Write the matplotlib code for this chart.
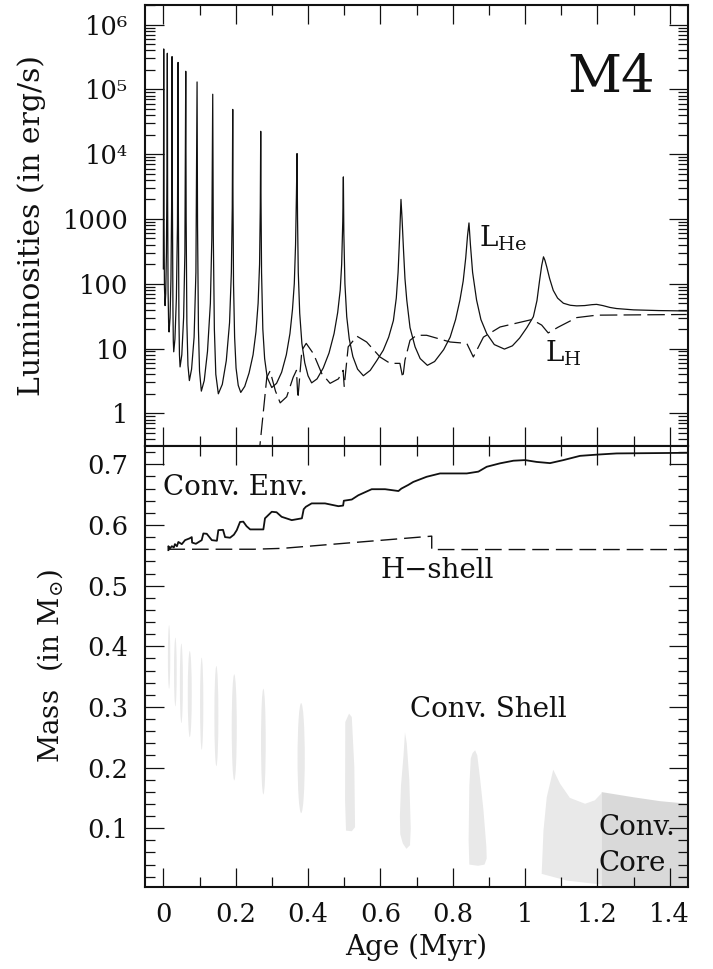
import matplotlib
matplotlib.use('Agg')
import matplotlib.pyplot as plt
from matplotlib.patches import Ellipse
from matplotlib.ticker import FixedLocator, LogLocator, MultipleLocator, NullFormatter

plt.rcParams['font.family'] = 'DejaVu Serif'
plt.rcParams['mathtext.fontset'] = 'dejavuserif'

# He-burning luminosity through the thermal pulses (age in Myr, L in erg/s)
age_he = [0.000, 0.001, 0.0018, 0.0030, 0.0047,
          0.0065, 0.0085, 0.0100, 0.011, 0.0118, 0.013, 0.0145, 0.0158,
          0.0185, 0.021, 0.0228, 0.024, 0.025, 0.0265, 0.0275, 0.0287,
          0.032, 0.036, 0.039, 0.0406, 0.0415, 0.043, 0.0445, 0.0462,
          0.051, 0.056, 0.0595, 0.0619, 0.063, 0.065, 0.068, 0.0719,
          0.078, 0.085, 0.090, 0.0932, 0.0945, 0.097, 0.100, 0.105,
          0.113, 0.122, 0.130, 0.134, 0.1365, 0.138, 0.141, 0.145, 0.152,
          0.163, 0.174, 0.183, 0.188, 0.1905, 0.1918,
          0.1925, 0.194, 0.197, 0.201, 0.207, 0.214,
          0.225, 0.237, 0.248, 0.256, 0.262, 0.266, 0.268, 0.2692,
          0.270, 0.2715, 0.275, 0.280, 0.287, 0.2997,
          0.313, 0.327, 0.340, 0.350, 0.357, 0.362, 0.3655, 0.368, 0.3696,
          0.371, 0.373, 0.377, 0.383, 0.391, 0.400, 0.410,
          0.425, 0.442, 0.458, 0.472, 0.482, 0.489, 0.493, 0.496, 0.4977,
          0.499, 0.502, 0.507, 0.514, 0.524, 0.537, 0.553,
          0.572, 0.590, 0.608, 0.623, 0.636, 0.644, 0.649, 0.653, 0.657,
          0.660, 0.664, 0.668, 0.673, 0.682, 0.696, 0.710, 0.730,
          0.750, 0.775, 0.793, 0.808, 0.820, 0.829, 0.836, 0.841, 0.845,
          0.849, 0.855, 0.866, 0.878, 0.894, 0.915, 0.943,
          0.965, 0.985, 1.005, 1.023, 1.033, 1.040, 1.046, 1.051,
          1.055, 1.060, 1.068, 1.078, 1.090, 1.106, 1.125, 1.143, 1.165, 1.185,
          1.198, 1.215, 1.235, 1.253, 1.300, 1.370, 1.447]
lum_he = [170, 4.2e5, 800, 90, 46,
          70, 300, 5000, 3.6e5, 2000, 80, 25, 18,
          30, 120, 1500, 3.2e5, 2000, 40, 13, 8.9,
          14, 60, 800, 2.6e5, 1500, 30, 8, 5.2,
          8, 30, 300, 1.9e5, 1000, 25, 5.5, 3.2,
          4.8, 15, 150, 1.3e5, 800, 20, 4.5, 2.2,
          3.2, 9, 50, 500, 8.4e4, 600, 20, 4, 2.0,
          2.8, 6.5, 25, 150, 1500, 4.9e4,
          2000, 100, 15, 5, 2.7, 2.1,
          2.6, 4.2, 8, 18, 50, 200, 1500, 2.25e4,
          2000, 150, 20, 7, 3.6, 2.5,
          2.9, 4.3, 8, 17, 40, 100, 400, 2500, 1.02e4,
          1000, 150, 35, 12, 6, 3.8, 2.95,
          3.4, 5, 8.5, 17, 36, 80, 200, 900, 4450,
          600, 100, 31, 14, 7.5, 4.8, 3.8,
          4.6, 6.5, 9.4, 15, 27, 60, 150, 500, 2000,
          1000, 330, 120, 56, 21, 10.6, 7, 5.5,
          6.3, 9.6, 15, 28, 56, 110, 250, 550, 867,
          400, 150, 56, 28, 17, 11.5, 9.8,
          11, 14.5, 21, 31, 55, 110, 190, 260,
          230, 182, 120, 79, 60, 50, 46.5, 45.5, 46, 47.5,
          48, 46, 43, 41.4, 39.5, 38.5, 38]

# H-burning luminosity
age_h = [0.262, 0.267, 0.276, 0.286, 0.295, 0.310, 0.323, 0.341, 0.359, 0.368,
         0.372, 0.383, 0.395, 0.415, 0.438, 0.461, 0.484, 0.497, 0.500, 0.511,
         0.535, 0.562, 0.599, 0.627, 0.654, 0.662, 0.668, 0.682, 0.700, 0.728,
         0.793, 0.839, 0.857, 0.885, 0.931, 1.019, 1.046, 1.064, 1.092, 1.143,
         1.198, 1.447]
lum_h = [0.2, 0.32, 1.0, 3.6, 4.5, 2.2, 1.45, 1.8, 3.6, 4.6,
         1.7, 9.4, 12, 8.3, 4.1, 2.9, 3.4, 4.6, 2.6, 10.6,
         15.5, 12.6, 7.4, 5.9, 5.9, 3.5, 6.6, 13.4, 16, 16,
         12.6, 12, 7.4, 15, 21.5, 28, 23, 17.4, 21.4, 30,
         32.7, 33.5]

# base of the convective envelope (Msun)
env_age = [0.0139, 0.0139, 0.0180, 0.0235, 0.0290, 0.0320, 0.0375, 0.0415, 0.0510, 0.0600,
           0.0720, 0.0785, 0.0795, 0.0900, 0.1060, 0.1106, 0.1200, 0.1340, 0.1480, 0.1520,
           0.1650, 0.1706, 0.1844, 0.1950, 0.2030, 0.2120, 0.2210, 0.2300, 0.2400, 0.2765,
           0.2810, 0.2997, 0.3130, 0.3270, 0.3550, 0.3830, 0.3880, 0.3940, 0.4100, 0.4470,
           0.4840, 0.4970, 0.4990, 0.5210, 0.5390, 0.5760, 0.6130, 0.6500, 0.6580, 0.6770,
           0.6910, 0.7280, 0.7650, 0.8390, 0.8710, 0.8940, 0.9310, 0.9680, 1.0000, 1.0320,
           1.0690, 1.1060, 1.1520, 1.1980, 1.2530, 1.4470]
env_mass = [0.5585, 0.5650, 0.5613, 0.5650, 0.5630, 0.5684, 0.5650, 0.5720, 0.5684, 0.5750,
            0.5778, 0.5800, 0.5710, 0.5690, 0.5750, 0.5860, 0.5855, 0.5750, 0.5740, 0.5915,
            0.5920, 0.5800, 0.5790, 0.5840, 0.5915, 0.6050, 0.6055, 0.5980, 0.5927, 0.5927,
            0.6110, 0.6218, 0.6210, 0.6135, 0.6080, 0.6110, 0.6260, 0.6300, 0.6356, 0.6356,
            0.6310, 0.6320, 0.6400, 0.6420, 0.6490, 0.6590, 0.6590, 0.6560, 0.6600, 0.6660,
            0.6710, 0.6795, 0.6850, 0.6850, 0.6880, 0.6960, 0.7017, 0.7060, 0.7070, 0.7040,
            0.7020, 0.7070, 0.7140, 0.7160, 0.7180, 0.7190]

# location of the H-burning shell
hsh_age = [0.0139, 0.25, 0.33, 0.742, 0.742, 1.45]
hsh_mass = [0.560, 0.560, 0.5615, 0.5816, 0.5595, 0.5595]

# early pulse-driven convective shells: centre, top, bottom, width
shell_age = [0.0158, 0.0332, 0.0498, 0.073, 0.106, 0.1466, 0.196, 0.2765, 0.381]
shell_top = [0.4347, 0.4143, 0.4045, 0.3922, 0.3813, 0.3675, 0.3538, 0.330, 0.3063]
shell_bot = [0.330, 0.301, 0.2734, 0.2503, 0.2295, 0.2024, 0.1788, 0.1557, 0.1248]
shell_width = [0.0065, 0.0074, 0.0083, 0.011, 0.009, 0.011, 0.014, 0.013, 0.020]

# later shells, given by their outlines
shell10_age = [0.5024, 0.503, 0.5134, 0.521, 0.528, 0.530, 0.521, 0.505]
shell10_mass = [0.146, 0.275, 0.289, 0.2833, 0.2007, 0.1017, 0.095, 0.096]
shell11_age = [0.668, 0.664, 0.657, 0.654, 0.655, 0.662, 0.672, 0.682, 0.684, 0.680, 0.673]
shell11_mass = [0.258, 0.22, 0.17, 0.12, 0.09, 0.075, 0.066, 0.072, 0.10, 0.18, 0.24]
shell12_age = [0.855, 0.862, 0.868, 0.876, 0.885, 0.893, 0.894, 0.888, 0.870, 0.846,
               0.844, 0.846, 0.850]
shell12_mass = [0.224, 0.2285, 0.220, 0.18, 0.13, 0.07, 0.05, 0.040, 0.038, 0.040,
                0.08, 0.17, 0.215]
shell13_age = [1.046, 1.051, 1.060, 1.078, 1.097, 1.124, 1.166, 1.193, 1.212, 1.212, 1.115]
shell13_mass = [0.0247, 0.0962, 0.151, 0.1965, 0.1733, 0.150, 0.1403, 0.146, 0.158, 0.007, 0.0137]

# convective core
core_age = [1.212, 1.30, 1.373, 1.45]
core_top = [0.1595, 0.151, 0.1446, 0.1403]

age_ticks = [0, 0.2, 0.4, 0.6, 0.8, 1.0, 1.2, 1.4]
age_labels = ['0', '0.2', '0.4', '0.6', '0.8', '1', '1.2', '1.4']
lum_ticks = [1, 10, 100, 1000, 1e4, 1e5, 1e6]
lum_labels = ['1', '10', '100', '1000', '10\u2074', '10\u2075', '10\u2076']
mass_ticks = [0.1, 0.2, 0.3, 0.4, 0.5, 0.6, 0.7]
mass_labels = ['0.1', '0.2', '0.3', '0.4', '0.5', '0.6', '0.7']

ink = '#111111'
shell_col = '#e9e9e9'
core_col = '#d9d9d9'

fig = plt.figure(figsize=(7.13, 9.69), dpi=100)
ax1 = fig.add_axes([0.2034, 0.5402, 0.7616, 0.4546])
ax2 = fig.add_axes([0.2034, 0.0846, 0.7616, 0.4556], sharex=ax1)

# ---- luminosities
ax1.plot(age_he, lum_he, color=ink, lw=0.9)
ax1.plot(age_h, lum_h, color=ink, lw=0.9, linestyle=(0, (14, 5)))
ax1.set_yscale('log')
ax1.set_ylim(0.318, 2.0e6)
ax1.yaxis.set_major_locator(FixedLocator(lum_ticks))
ax1.set_yticklabels(lum_labels)
ax1.yaxis.set_minor_locator(LogLocator(base=10, subs=range(2, 10), numticks=20))
ax1.yaxis.set_minor_formatter(NullFormatter())
ax1.tick_params(labelbottom=False)

ax1.text(1.237, 9.0e4, 'M4', fontsize=38, ha='center', va='baseline', color=ink)
ax1.text(0.874, 370, r'L$_{\mathrm{He}}$', fontsize=20, ha='left', va='baseline', color=ink)
ax1.text(1.055, 6.2, r'L$_{\mathrm{H}}$', fontsize=20, ha='left', va='baseline', color=ink)

# ---- mass coordinates
for x, t, b, w in zip(shell_age, shell_top, shell_bot, shell_width):
    ax2.add_patch(Ellipse((x, (t + b) / 2), w, t - b, facecolor=shell_col,
                          edgecolor='none', zorder=1))
for xs, ms in [(shell10_age, shell10_mass), (shell11_age, shell11_mass),
               (shell12_age, shell12_mass), (shell13_age, shell13_mass)]:
    ax2.fill(xs, ms, facecolor=shell_col, edgecolor='none', zorder=1)
ax2.fill_between(core_age, 0, core_top, facecolor=core_col, edgecolor='none', zorder=1)

ax2.plot(env_age, env_mass, color=ink, lw=1.3, zorder=3)
ax2.plot(hsh_age, hsh_mass, color=ink, lw=1.0, linestyle=(0, (12, 5)), zorder=3)

ax2.set_ylim(0.003, 0.731)
ax2.yaxis.set_major_locator(FixedLocator(mass_ticks))
ax2.set_yticklabels(mass_labels)
ax2.yaxis.set_minor_locator(MultipleLocator(0.02))

ax2.text(0.0, 0.6493, 'Conv. Env.', fontsize=20, ha='left', va='baseline', color=ink)
ax2.text(0.599, 0.5134, 'H\u2212shell', fontsize=20, ha='left', va='baseline', color=ink)
ax2.text(0.682, 0.2833, 'Conv. Shell', fontsize=20, ha='left', va='baseline', color=ink)
ax2.text(1.203, 0.088, 'Conv.', fontsize=20, ha='left', va='baseline', color=ink)
ax2.text(1.203, 0.029, 'Core', fontsize=20, ha='left', va='baseline', color=ink)

ax2.set_xlim(-0.0507, 1.4507)
ax2.set_xticks(age_ticks)
ax2.set_xticklabels(age_labels)
ax2.xaxis.set_minor_locator(MultipleLocator(0.1))

for ax in (ax1, ax2):
    ax.tick_params(which='both', direction='in', top=True, right=True, colors=ink,
                   labelsize=18.5)
    ax.tick_params(which='major', length=13.5, width=0.9)
    ax.tick_params(which='minor', length=7, width=0.9)
    ax.tick_params(axis='y', pad=12)
    ax.tick_params(axis='x', pad=11)
    for sp in ax.spines.values():
        sp.set_linewidth(1.5)
        sp.set_color(ink)

ax1.set_ylabel('Luminosities (in erg/s)', fontsize=21.5, color=ink)
ax1.yaxis.set_label_coords(-0.183, 0.5)
ax2.set_ylabel(r'Mass  (in M$_{\odot}$)', fontsize=20, color=ink)
ax2.yaxis.set_label_coords(-0.147, 0.5)
ax2.set_xlabel('Age (Myr)', fontsize=20, color=ink)
ax2.xaxis.set_label_coords(0.5, -0.105)

fig.savefig('out.png', dpi=100)
